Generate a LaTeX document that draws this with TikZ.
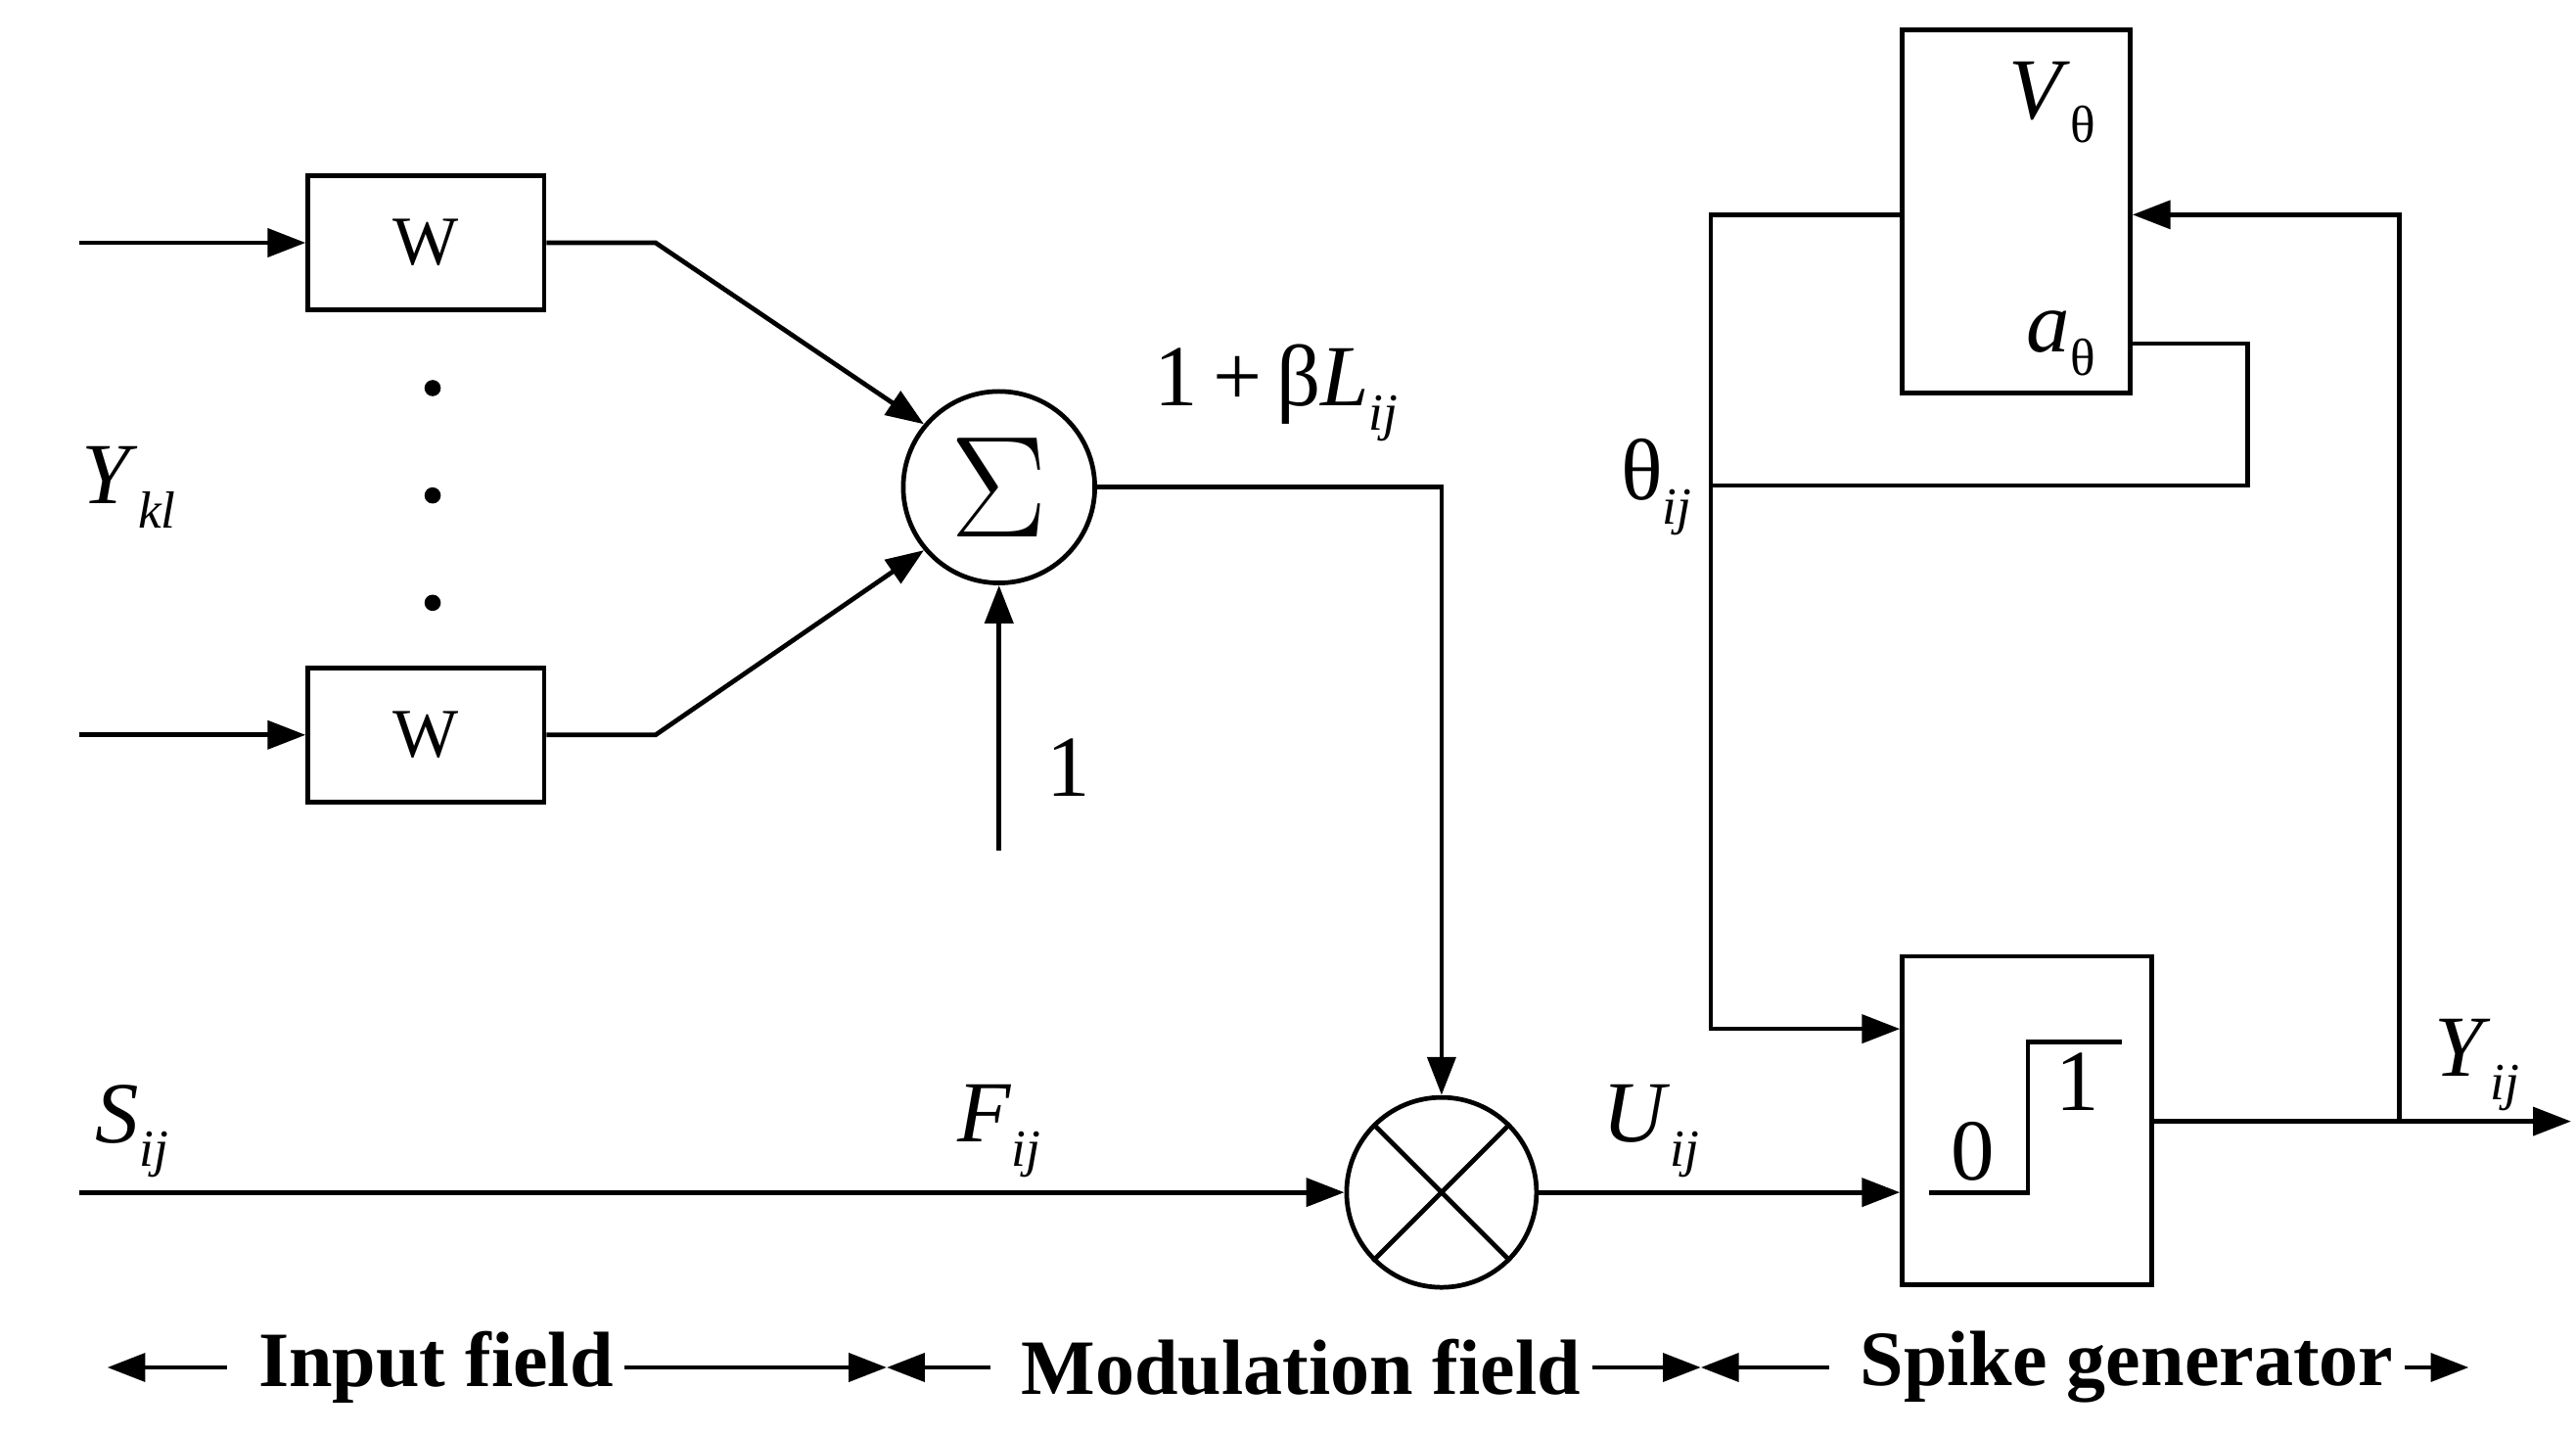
\documentclass[tikz,border=0pt]{standalone}
\usepackage{fontspec}
\setmainfont{Liberation Serif}
\usetikzlibrary{arrows.meta,positioning}
\newcommand{\lbl}[2]{\textit{#1}\raisebox{-0.6ex}{\fontsize{9}{9}\selectfont\textit{#2}}}
\newcommand{\lblup}[2]{\textit{#1}\raisebox{-0.6ex}{\fontsize{9}{9}\selectfont\textup{#2}}}
\tikzset{
  block/.style={draw,thick,minimum width=14.3mm,minimum height=8.1mm,font=\fontsize{12}{12}\selectfont},
  op/.style={draw,thick,circle,minimum size=11.5mm,inner sep=0pt},
  lab/.style={font=\fontsize{15}{15}\selectfont},
  field/.style={font=\bfseries\fontsize{13.5}{13.5}\selectfont,fill=white,inner sep=2pt},
  >={Triangle[length=2.3mm,width=1.7mm]}
}
\begin{document}
\begin{tikzpicture}[x=0.1mm,y=-0.1mm,thick]
	\useasboundingbox (0,0) rectangle (1560,868);
	% input field
	\node[block] (nodeW1) at (258,147) {W};
	\node[block] (nodeW2) at (258,445) {W};
	\coordinate (inW1) at (48,147);
	\coordinate (inW2) at (48,445);
	\draw[->] (inW1) -- (nodeW1);
	\draw[->] (inW2) -- (nodeW2);
	\foreach \y in {235,300,365} \fill (262,\y) circle (1.4pt);
	\node[lab] (nodeY) at (78,295) {\lbl{Y}{kl}};
	% modulation field
	\node[op,minimum size=11.6mm] (nodeSum) at (605,295) {\fontsize{28}{28}\selectfont$\Sigma$};
	\node[op] (nodeMul) at (873,722) {};
	\draw (nodeMul.45) -- (nodeMul.225) (nodeMul.135) -- (nodeMul.315);
	\draw[->] (nodeW1.east) -- (397,147) -- (nodeSum.140);
	\draw[->] (nodeW2.east) -- (397,445) -- (nodeSum.220);
	\coordinate (one) at (605,515);
	\draw[->] (one) -- (nodeSum.south);
	\node[lab] (nodeOne) at (647,465) {1};
	\node[lab] (nodeL) at (773,238) {1\,+\,β\lbl{L}{ij}};
	\draw[->] (nodeSum.east) -- (873,295) -- (nodeMul.north);
	\coordinate (inS) at (48,722);
	\draw[->] (inS) -- (nodeMul.west);
	\node[lab] (nodeS) at (80,685) {\lbl{S}{ij}};
	\node[lab] (nodeF) at (605,685) {\lbl{F}{ij}};
	\node[lab] (nodeU) at (1000,685) {\lbl{U}{ij}};
	% spike generator
	\node[draw,minimum width=15.1mm,minimum height=19.9mm] (nodeStep) at (1227.5,678.5) {};
	\draw (1168,722) -- (1228,722) -- (1228,631) -- (1285,631);
	\node[lab] at (1195,697) {0};
	\node[lab] at (1258,655) {1};
	\node[draw,minimum width=13.8mm,minimum height=22mm] (nodeV) at (1221,128) {};
	\node[lab,anchor=east] (nodeVt) at (1282,62) {\lblup{V}{θ}};
	\node[lab,anchor=east] (nodeAt) at (1282,208) {\lblup{a}{θ}};
	\draw[->] (nodeMul.east) -- (nodeStep.west |- nodeMul);
	\coordinate (out) at (1557,679);
	\draw[->] (nodeStep.east |- out) -- (out);
	\node[lab] (nodeYij) at (1500,645) {\lbl{Y}{ij}};
	\draw[->] (1453,679) -- (1453,130) -- (nodeV.east |- 0,130);
	\draw (nodeV.east |- nodeAt) -- (1361,208) -- (1361,294) -- (1036,294);
	\draw[->] (nodeV.west |- 0,130) -- (1036,130) -- (1036,623) -- (nodeStep.west |- 0,623);
	\node[lab] (nodeTheta) at (1003,295) {θ\raisebox{-0.6ex}{\fontsize{9}{9}\selectfont\textit{ij}}};
	% fields
	\draw[<->] (65,828) -- (537,828);
	\draw[<->] (537,828) -- (1030,828);
	\draw[<->] (1030,828) -- (1495,828);
	\node[field] at (258,828) {\ Input field\ };
	\node[field] at (782,828) {\ Modulation field\ };
	\node[field] at (1282,828) {\ Spike generator\ };
\end{tikzpicture}
\end{document}
